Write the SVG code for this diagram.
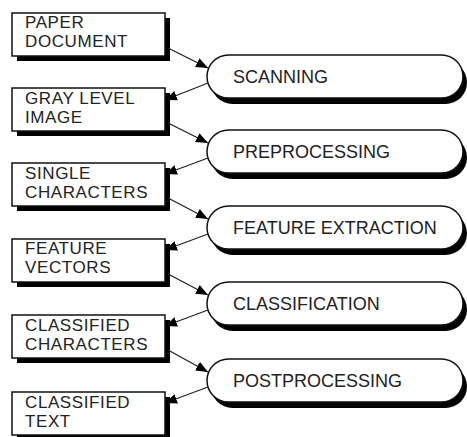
<svg xmlns="http://www.w3.org/2000/svg" width="467" height="437" viewBox="0 0 467 437">
  <style>
    .box { fill: #fff; stroke: #111; stroke-width: 1.5; }
    .shadow { fill: #000; }
    .lbl { font-family: "Liberation Sans", Arial, sans-serif; font-size: 17px; letter-spacing: 0.6px; fill: #222; }
    .step { font-family: "Liberation Sans", Arial, sans-serif; font-size: 18px; fill: #222; }
    .edge { stroke: #222; stroke-width: 1.3; fill: none; marker-end: url(#arrow); }
  </style>
  <defs>
    <marker id="arrow" markerUnits="userSpaceOnUse" markerWidth="14" markerHeight="12" refX="12" refY="5" orient="auto">
      <path d="M0,0 L12,5 L0,10 Z" fill="#000"/>
    </marker>
  </defs>
  <rect width="467" height="437" fill="#fff"/>

  <!-- data items (rectangles) -->
  <g id="paper-document">
    <rect class="shadow" x="17" y="18" width="153" height="43"/>
    <rect class="box" x="12" y="13" width="153" height="43"/>
    <text class="lbl" x="25" y="28">PAPER</text>
    <text class="lbl" x="25" y="47">DOCUMENT</text>
  </g>
  <g id="gray-level-image">
    <rect class="shadow" x="17" y="93" width="153" height="43"/>
    <rect class="box" x="12" y="88" width="153" height="43"/>
    <text class="lbl" x="25" y="104">GRAY LEVEL</text>
    <text class="lbl" x="25" y="123">IMAGE</text>
  </g>
  <g id="single-characters">
    <rect class="shadow" x="17" y="168" width="153" height="43"/>
    <rect class="box" x="12" y="163" width="153" height="43"/>
    <text class="lbl" x="25" y="179">SINGLE</text>
    <text class="lbl" x="25" y="198">CHARACTERS</text>
  </g>
  <g id="feature-vectors">
    <rect class="shadow" x="17" y="244" width="153" height="43"/>
    <rect class="box" x="12" y="239" width="153" height="43"/>
    <text class="lbl" x="25" y="254">FEATURE</text>
    <text class="lbl" x="25" y="273">VECTORS</text>
  </g>
  <g id="classified-characters">
    <rect class="shadow" x="17" y="320" width="153" height="43"/>
    <rect class="box" x="12" y="315" width="153" height="43"/>
    <text class="lbl" x="25" y="331">CLASSIFIED</text>
    <text class="lbl" x="25" y="350">CHARACTERS</text>
  </g>
  <g id="classified-text">
    <rect class="shadow" x="17" y="397" width="153" height="43"/>
    <rect class="box" x="12" y="392" width="153" height="43"/>
    <text class="lbl" x="25" y="408">CLASSIFIED</text>
    <text class="lbl" x="25" y="427">TEXT</text>
  </g>

  <!-- processing steps (pills) -->
  <g id="scanning">
    <rect class="shadow" x="211" y="61" width="256" height="43" rx="21.5"/>
    <rect class="box" x="207" y="55" width="256" height="43" rx="21.5"/>
    <text class="step" x="233" y="83">SCANNING</text>
  </g>
  <g id="preprocessing">
    <rect class="shadow" x="211" y="136" width="256" height="43" rx="21.5"/>
    <rect class="box" x="207" y="130" width="256" height="43" rx="21.5"/>
    <text class="step" x="233" y="158">PREPROCESSING</text>
  </g>
  <g id="feature-extraction">
    <rect class="shadow" x="211" y="212" width="256" height="43" rx="21.5"/>
    <rect class="box" x="207" y="206" width="256" height="43" rx="21.5"/>
    <text class="step" x="233" y="234">FEATURE EXTRACTION</text>
  </g>
  <g id="classification">
    <rect class="shadow" x="211" y="288" width="256" height="43" rx="21.5"/>
    <rect class="box" x="207" y="282" width="256" height="43" rx="21.5"/>
    <text class="step" x="233" y="310">CLASSIFICATION</text>
  </g>
  <g id="postprocessing">
    <rect class="shadow" x="211" y="365" width="256" height="43" rx="21.5"/>
    <rect class="box" x="207" y="359" width="256" height="43" rx="21.5"/>
    <text class="step" x="233" y="387">POSTPROCESSING</text>
  </g>

  <!-- connectors -->
  <g id="connectors">
    <line class="edge" x1="168" y1="48" x2="208" y2="68"/>
    <line class="edge" x1="208" y1="83" x2="165" y2="100"/>
    <line class="edge" x1="168" y1="123" x2="208" y2="143"/>
    <line class="edge" x1="208" y1="158" x2="165" y2="174"/>
    <line class="edge" x1="168" y1="198" x2="208" y2="219"/>
    <line class="edge" x1="208" y1="234" x2="165" y2="250"/>
    <line class="edge" x1="168" y1="274" x2="208" y2="295"/>
    <line class="edge" x1="208" y1="310" x2="165" y2="326"/>
    <line class="edge" x1="168" y1="350" x2="208" y2="372"/>
    <line class="edge" x1="208" y1="387" x2="165" y2="403"/>
  </g>
</svg>
